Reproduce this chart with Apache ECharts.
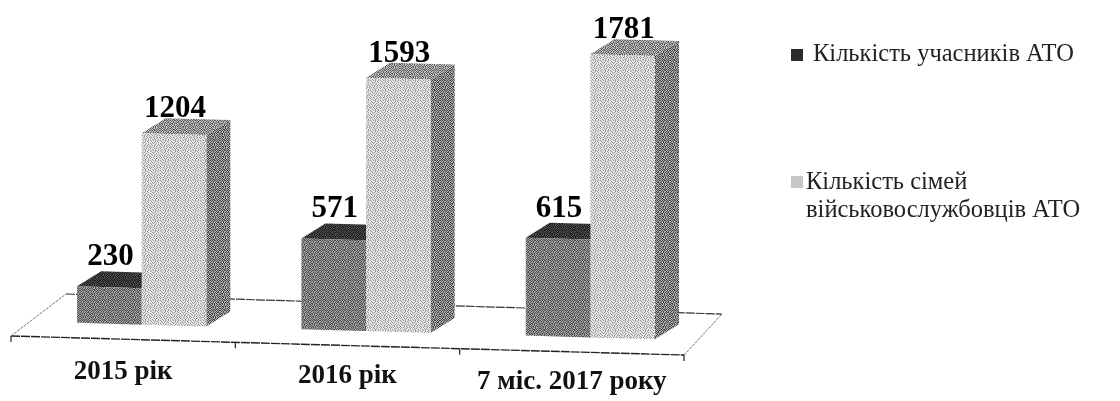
<!DOCTYPE html>
<html><head><meta charset="utf-8">
<style>html,body{margin:0;padding:0;background:#fff}#c{width:1120px;height:401px}</style>
<script src="https://cdn.jsdelivr.net/npm/echarts@6/dist/echarts.min.js"></script>
</head><body><div id="c"></div>
<script>
const categories = ['2015 рік', '2016 рік', '7 міс. 2017 року'];
const participants = [230, 571, 615];
const families = [1204, 1593, 1781];
const seriesNames = ['Кількість учасників АТО', 'Кількість сімей\nвійськовослужбовців АТО'];
const labelDrop = [0, 4, 10];

const FONT = '"Liberation Serif","DejaVu Serif",serif';
const GRID = {left: 11, top: 3, width: 673, height: 318};
const SLOPE = 0.0283;
const DX = 24, DY = -15, BAR = 0.288, SHIFT = 0.0826;

function dither(a, b, rows) {
  const c = document.createElement('canvas');
  c.width = rows[0].length; c.height = rows.length;
  const g = c.getContext('2d');
  rows.forEach((r, y) => [...r].forEach((ch, x) => {
    g.fillStyle = ch === '#' ? a : b; g.fillRect(x, y, 1, 1);
  }));
  return {image: c, repeat: 'repeat'};
}
const M1 = ['#.#.##.#.#', '.#.#..#.#.', '#..#.#.##.', '.##.#.#..#', '#.#.#..#.#', '.#..#.#.#.', '#.##.#.#.#', '.#.#.#..#.', '#.#..#.#.#', '.#.##.#.#.'];
const M2 = ['#..#.#..#.', '.#...#.#..', '..#.#...#.', '#..#..#...', '.#...#..#.', '..#.#..#.#', '#...#.#...', '.#.#...#.#', '#...#.#...', '..#..#..#.'];
const P = {
  darkFront: dither('#505050', '#a4a4a4', M1),
  darkTop: dither('#1a1a1a', '#505050', M1),
  darkSide: dither('#222222', '#888888', M1),
  lightFront: dither('#9a9a9a', '#e4e4e4', M2),
  lightTop: dither('#606060', '#c0c0c0', M1),
  lightSide: dither('#484848', '#b0b0b0', M1)
};

function box(front, top, side, slot, labelLift) {
  return function (params, api) {
    const i = api.value(0), v = api.value(1);
    const t = api.coord([i, v]), b = api.coord([i, 0]);
    const band = api.size([1, 0])[0];
    const w = band * BAR;
    const x0 = b[0] + band * SHIFT + (slot === 0 ? -w : 0);
    const x1 = x0 + w;
    const s = x => (x - GRID.left) * SLOPE;
    const yT0 = t[1] + s(x0), yT1 = t[1] + s(x1);
    const yB0 = b[1] + s(x0), yB1 = b[1] + s(x1);
    const poly = (points, fill) => ({type: 'polygon', shape: {points}, style: {fill, stroke: null}});
    return {type: 'group', children: [
      poly([[x1, yT1], [x1 + DX, yT1 + DY], [x1 + DX, yB1 + DY], [x1, yB1]], side),
      poly([[x0, yT0], [x1, yT1], [x1 + DX, yT1 + DY], [x0 + DX, yT0 + DY]], top),
      poly([[x0, yT0], [x1, yT1], [x1, yB1], [x0, yB0]], front),
      {type: 'text', style: {text: String(v), x: (x0 + x1) / 2 + 1, y: yT0 - labelLift, align: 'center', verticalAlign: 'middle',
        font: 'bold 31px ' + FONT, fill: '#000'}}
    ]};
  };
}

function floorItem(params, api) {
  const a = api.coord([0, 0]), z = api.coord([2, 0]);
  const band = api.size([1, 0])[0];
  const L = a[0] - band / 2, R = z[0] + band / 2;
  const edge = x => a[1] + 15 + (x - GRID.left) * SLOPE;
  const fl = [L, edge(L)], fr = [R, edge(R)];
  const bl = [L + 55, edge(L) - 42], br = [R + 38, edge(R) - 41];
  const line = (p, q, w, c, dash) => ({type: 'line', shape: {x1: p[0], y1: p[1], x2: q[0], y2: q[1]},
    style: {stroke: c, lineWidth: w, lineDash: dash || null}});
  const kids = [
    line(fl, fr, 1.4, '#222', [9, 1]),
    line(bl, br, 1.2, '#333', [9, 1]),
    line(fl, bl, 1, '#777', [3, 1]),
    line(fr, br, 1, '#777', [3, 1])
  ];
  for (let k = 0; k <= 3; k++) {
    const x = L + k * band;
    kids.push(line([x, edge(x)], [x, edge(x) + 6], 1.2, '#222'));
  }
  return {type: 'group', children: kids};
}

const chart = echarts.init(document.getElementById('c'), null, {renderer: 'canvas'});
chart.setOption({
  animation: false,
  backgroundColor: '#fff',
  grid: GRID,
  xAxis: {
    type: 'category',
    data: categories.map((c, i) => ({value: c, textStyle: {padding: [labelDrop[i], 0, 0, 0]}})),
    axisLine: {show: false}, axisTick: {show: false}, splitLine: {show: false},
    axisLabel: {margin: 38, interval: 0, fontFamily: FONT, fontWeight: 'bold', fontSize: 27, color: '#111'}
  },
  yAxis: {type: 'value', min: 0, max: 2000, show: false, splitLine: {show: false}},
  legend: [
    {orient: 'vertical', left: 786, top: 36, itemWidth: 12, itemHeight: 12, itemGap: 0, icon: 'rect',
     textStyle: {fontFamily: FONT, fontSize: 24.5, lineHeight: 28, color: '#222', padding: [0, 0, 0, 5]},
     data: [{name: seriesNames[0], itemStyle: {color: '#2b2b2b'}}]},
    {orient: 'vertical', left: 786, top: 164, itemWidth: 12, itemHeight: 42, itemGap: 0,
     icon: 'path://M0 0H12V12H0Z M0 42L0 42',
     textStyle: {fontFamily: FONT, fontSize: 24.5, lineHeight: 28, color: '#222', padding: [0, 0, 0, -2]},
     data: [{name: seriesNames[1], itemStyle: {color: '#c6c6c6'}}]}
  ],
  series: [
    {type: 'custom', silent: true, renderItem: floorItem, data: [[0, 0]], encode: {x: 0, y: 1}, z: 1},
    {type: 'custom', name: seriesNames[0], renderItem: box(P.darkFront, P.darkTop, P.darkSide, 0, 29),
     data: participants.map((v, i) => [i, v]), encode: {x: 0, y: 1}, z: 2, clip: false,
     itemStyle: {color: '#2b2b2b'}},
    {type: 'custom', name: seriesNames[1], renderItem: box(P.lightFront, P.lightTop, P.lightSide, 1, 24),
     data: families.map((v, i) => [i, v]), encode: {x: 0, y: 1}, z: 3, clip: false,
     itemStyle: {color: '#c6c6c6'}}
  ]
});
</script></body></html>
